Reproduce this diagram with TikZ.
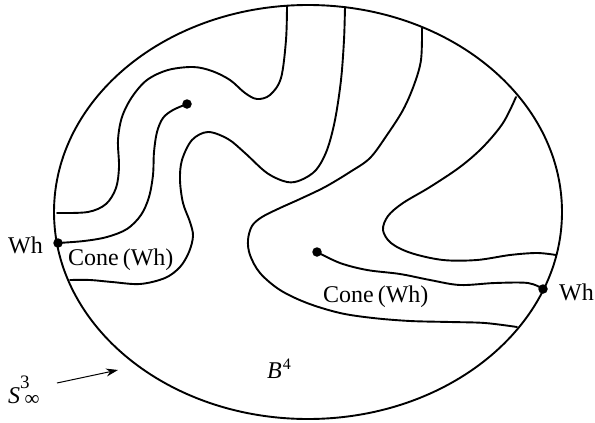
\documentclass[tikz,border=0pt]{standalone}
\usepackage{fontspec}
\setmainfont{Liberation Serif}
\usetikzlibrary{arrows.meta}
\begin{document}
\begin{tikzpicture}[x=1pt,y=-1pt,
  curve/.style={line width=1.9pt, line join=round, line cap=round},
  dotmark/.style={circle, fill=black, inner sep=0pt, minimum size=9.5pt},
  lbl/.style={font=\fontsize{24}{27}\selectfont, inner sep=0pt, anchor=base west}]
\useasboundingbox (0,0) rectangle (595,423);
% boundary S^3
\draw[curve] (308,212) ellipse [x radius=254pt, y radius=207pt];
% named points
\coordinate (dotA) at (187,104);
\coordinate (dotB) at (317,252);
\coordinate (whL) at (58,243);
\coordinate (whR) at (543,289);
% curve 1 (outer left loop)
\draw[curve] plot[smooth, tension=0.55] coordinates {(287,6) (286,40) (281,78) (270,95) (257,99) (245,93) (230,80) (212,71) (193,67) (168,70) (147,80) (132,97) (122,117) (118,140) (119,167) (116,188) (106,204) (88,212) (57,213)};
% curve 2 (cone from dot A to Wh left)
\draw[curve] plot[smooth, tension=0.55] coordinates {(dotA) (173,110) (163,118) (157,132) (154,152) (153,175) (149,197) (141,215) (127,229) (107,237) (84,241) (whL)};
% curve 3
\draw[curve] plot[smooth, tension=0.55] coordinates {(345,7) (344,40) (341,80) (335,120) (327,150) (316,170) (301,180) (287,182) (267,173) (245,153) (228,139) (208,132) (192,140) (182,160) (180,180) (183,203) (190,222) (193,236) (189,252) (180,267) (165,278) (140,284) (112,282) (90,280) (70,280)};
% curve 4
\draw[curve] plot[smooth, tension=0.55] coordinates {(422,28) (421,60) (414,85) (403,110) (387,135) (370,158) (350,172) (325,187) (300,199) (280,208) (262,217) (252,226) (248,240) (250,255) (260,273) (280,290) (307,303) (340,313) (373,318) (410,321) (450,322) (485,323) (517,327)};
% curve 5
\draw[curve] plot[smooth, tension=0.55] coordinates {(516,97) (503,123) (483,147) (460,167) (430,187) (403,203) (388,216) (383,230) (391,243) (411,253) (443,260) (477,260) (510,255) (537,253) (556,255)};
% curve 6 (cone from dot B to Wh right)
\draw[curve] plot[smooth, tension=0.55] coordinates {(dotB) (340,263) (367,270) (400,274) (430,280) (460,285) (495,283) (528,283) (whR)};
% dots
\node[dotmark] (pA) at (dotA) {};
\node[dotmark] (pB) at (dotB) {};
\node[dotmark] (pL) at (whL) {};
\node[dotmark] (pR) at (whR) {};
% labels
\node[lbl] (lwh) at (8,253) {Wh};
\node[lbl] (rwh) at (559,300) {Wh};
\node[lbl] (lcone) at (68,265) {Cone\,(Wh)};
\node[lbl] (rcone) at (323,302) {Cone\,(Wh)};
\node[lbl] (b4) at (267,378) {\textit{B}\hspace{1pt}\raisebox{9pt}{\fontsize{16}{16}\selectfont 4}};
\node[lbl] (s3) at (8,403) {\textit{S}\raisebox{15pt}{\fontsize{19}{19}\selectfont 3}\hspace{-5pt}\raisebox{-2pt}{\fontsize{21}{21}\selectfont ∞}};
% arrow
\coordinate (arrS) at (57,383);
\coordinate (arrE) at (118,370);
\draw[line width=1pt, -{Stealth[length=12pt,width=8pt]}] (arrS) -- (arrE);
\end{tikzpicture}
\end{document}
